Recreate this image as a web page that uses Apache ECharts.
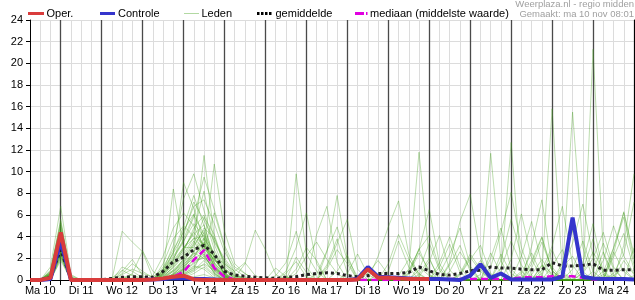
<!DOCTYPE html>
<html><head><meta charset="utf-8">
<script src="https://cdn.jsdelivr.net/npm/echarts@6/dist/echarts.min.js"></script>
<style>html,body{margin:0;padding:0;background:#fff}#c{width:635px;height:300px}</style>
</head><body><div id="c"></div>
<script>
// ---- tick labels / categories ----
const dayLabels = ['Ma 10','Di 11','Wo 12','Do 13','Vr 14','Za 15','Zo 16','Ma 17','Di 18','Wo 19','Do 20','Vr 21','Za 22','Zo 23','Ma 24'];
const hours = ['06:00','12:00','18:00','24:00'];
const yTicks = {min:0, max:24, step:2};

// ---- series values (mm per 6h) ----
const oper = [0,0,0.2,4.4, 0,0,0,0, 0,0,0,0, 0.05,0.15,0.3,0.4, 0.05,0,0,0, 0,0,0,0, 0,0,0,0, 0,0,0,0, 0.05,1.0,0.2,0.2, 0.15,0.1,0.1,0.1, null,null,null,null, null,null,null,null, null,null,null,null, null,null,null,null, null,null,null,null];
const controle = [0,0,0.1,3.6, 0,0,0,0, 0,0,0,0, 0.05,0.1,0.15,0.15, 0.1,0.1,0.05,0, 0,0,0,0, 0,0,0,0, 0,0,0,0, 0.1,1.2,0.3,0.25, 0.2,0.15,0.1,0.1, 0.1,0.05,0,0.4, 1.45,0.2,0.6,0.05, 0.05,0.05,0.05,0.05, 0.3,5.75,0.3,0.15, 0.1,0.1,0.1,0.05];
const gemiddelde = [0,0,0.25,2.8, 0.05,0,0,0.02, 0.15,0.25,0.3,0.3, 0.25,0.8,1.7,2.1, 2.8,3.2,2.4,0.8, 0.45,0.35,0.25,0.2, 0.15,0.25,0.3,0.5, 0.6,0.67,0.6,0.4, 0.3,0.4,0.6,0.6, 0.6,0.7,1.2,0.85, 0.5,0.45,0.6,0.85, 0.9,1.2,1.1,1.1, 1.0,0.95,0.95,1.6, 1.3,1.3,1.35,1.5, 0.9,0.9,0.95,0.95];
const mediaan = [0,0,0,3.2, 0,0,0,0, 0,0,0,0, 0,0,0.3,0.75, 1.85,2.75,1.1,0.3, 0.05,0,0,0, 0,0,0,0, 0,0,0,0, 0,0,0,0, 0,0.15,0.15,0.15, 0,0.1,0.1,0.1, 0.1,0.1,0.1,0.1, 0.25,0.25,0.25,0.35, 0.35,0.35,0.2,0.05, 0.05,0.05,0.05,0.05];

const lid01 = [0,0,0.2,3.1, 0.1,0,0,0, 0,0.3,0.1,0, 0,0.5,1.8,3.0, 4.2,5.1,2.0,0.6, 0.2,0,0,0, 0,0,0.6,2.2, 3.5,1.9,0.6,0, 0,0,0,0, 0,0,1.2,0.4, 0,0,0.5,2.1, 0.8,0,2.4,0.6, 0,0,0,1.3, 2.8,0.2,0.9,3.8, 0.5,0,0,0];
const lid02 = [0,0,0.5,4.0, 0,0,0,0, 0,0,0,0, 0.1,0.9,3.2,7.5, 9.8,6.4,3.3,1.0, 0.4,0.2,0,0, 0,0,0,0, 0,0,0,0, 0,0,0,1.5, 4.2,2.0,0.3,0, 0,0,0,0, 0.2,0,0,0, 0,1.1,3.5,0.9, 0,0,0,0, 0,2.1,4.3,1.0];
const lid03 = [0,0,0,2.4, 0,0,0,0, 0,1.2,0.8,0.2, 0,0,0.4,1.2, 2.6,4.4,1.5,0.3, 0,0,0,0, 0,0.3,0,0, 0,0,0,0, 0,0,0.5,0, 0,0,0,0, 0,1.4,3.2,0.8, 0,0,0,0, 0,0,0,0, 0.3,0,1.6,5.2, 0.7,0,1.8,0.5];
const lid04 = [0,0,0.8,5.6, 0.3,0,0,0, 0,0,0,0, 0.4,2.2,4.8,6.2, 5.0,3.1,2.2,1.5, 0.8,1.6,0.4,0, 0,0,0,0, 0,0,0,0, 0,0,0,0, 0,0.6,2.8,6.5, 1.5,0,0,0.6, 1.8,0.5,0,0, 0,0,0,0, 0,0,0,0, 0,0.4,1.1,0];
const lid05 = [0,0,0.1,2.8, 0,0,0,0, 0,0,0,0, 0,0,0.6,2.0, 3.4,11.5,4.0,1.2, 0,0,0,0, 0,0,0,0, 0,0,0,0, 0,0.6,1.8,0.5, 0,0,0,0, 0,0,0,0, 0,0,0,0, 0,3.1,7.4,1.2, 0,0.4,0,0, 0,0,0,0];
const lid06 = [0,0,0.3,3.6, 0,0,0,0, 0.2,0.9,0.4,0, 0,0.3,1.2,2.4, 3.9,2.8,1.0,0.2, 0,0,0,0, 0.4,1.6,4.5,1.2, 0,0,0,0, 0,0,0,0, 0,0,0,0, 0,0,0.6,2.4, 1.0,0,0,0, 0,0,0,0, 1.2,2.2,0.4,0, 0,0,0,0];
const lid07 = [0,0,0.6,4.5, 0.2,0,0,0, 0,0,0,0, 0,0.2,0.8,1.5, 2.2,3.0,10.7,4.5, 1.5,0.6,0,0, 0,0,0,0, 0,0,0,0, 0,0,0,0, 0,0.5,2.5,0.9, 0,0,0,0, 0,0,0,0, 0.8,0,0,0, 0,0,0,0, 0,3.0,6.2,2.4];
const lid08 = [0,0,0,1.8, 0,0,0,0, 0,0,0,0, 0,0.1,0.2,0.5, 1.2,2.8,6.2,3.0, 0.6,0,0,0, 0,0,0,0, 0,2.6,7.8,2.0, 0.3,0,0,0, 0,0,0,0, 0,0,0,0, 0,0,0,0, 0,0,0,0, 0.5,15.5,3.0,0, 0,0,0,0];
const lid09 = [0,0,0.2,3.0, 0,0,0,0, 0,0.5,1.0,0.6, 0.3,1.0,2.5,4.1, 7.2,5.5,3.6,2.0, 0.7,0,0,0, 0,0,0,0, 0,0,0,0, 0,0,0,0, 0,0,0,0, 0.6,2.4,4.8,1.3, 0,0,0,0, 0,0,0,0, 0,0,0,0, 0,0,0,0];
const lid10 = [0,0,1.2,6.8, 0.5,0,0,0, 0,0,0,0, 0,0,0.3,0.9, 1.6,2.4,0.8,0.1, 0,0,0,0, 0,0,0,0, 0,0,0,0, 0,0,0,0, 0,1.0,11.8,2.0, 0,0,0,0, 0,0,0,0, 0,0,1.4,0.6, 0,0,0,0, 0,0,0,0];
const lid11 = [0,0,0.4,3.3, 0,0,0,0, 0,0,0,0, 0,0.6,1.9,3.8, 6.0,4.2,2.5,0.4, 0,0,0,0, 0,0,1.0,3.0, 1.8,0,0,0, 0,0,0,0, 0,0,0,0, 0,0,0,0, 0.5,11.7,1.8,0, 0,0,0,0, 0,0,0,0, 0,0,0,0];
const lid12 = [0,0,0,2.2, 0,0,0,0, 0,0,0.6,2.7, 0.8,0.2,0.5,1.0, 1.8,2.0,0.6,0, 0,0,0,0, 0,0,0,0, 0,0,0,0, 0,0,0,0, 0,0.7,2.9,0.5, 0,0,0,0, 0,0,0,0, 0,0,0,0, 0,0,0,0, 0,0,3.2,9.8];
const lid13 = [0,0,0.7,4.8, 0,0,0,0, 0,0,0,0, 0,0.4,1.5,2.8, 4.5,8.2,3.5,1.8, 0.5,0,0,0, 0,0,0,0, 0,0,0,0, 0,0,0,0, 0,0,0,0, 0,0,0,0, 0,0,0,0, 0,0,0.4,2.8, 0.6,0,0,0, 0,0,0,0];
const lid14 = [0,0,0.2,2.6, 0,0,0,0, 0,0,0,0, 0,0,0,0.3, 0.8,1.5,0.9,0.2, 0,0,0,0, 0,0,0,0, 0,0,0,0, 0,0,0,0, 0,0,0,0, 0,0,0,0, 0,0,0.6,12.7, 0.4,0,0,0, 0,0,0,0, 0,0,0,0];
const lid15 = [0,0,0.3,3.9, 0,0,0,0, 0,4.5,3.5,2.6, 0.2,0,0.1,0.4, 1.0,2.9,1.9,0.6, 0,0,0,0, 0,0,0,0, 0,0,0,0, 0,0,0,0, 0,0,0,0, 0,0,0,0, 0,0,0,0, 0,0,0.6,15.8, 0.8,0,0,0, 0,0,0,0];
const lid16 = [0,0,0.9,5.2, 0.4,0,0,0, 0,0,0,0, 0,1.5,3.8,5.0, 4.0,3.3,1.8,1.0, 0.3,0,0,0, 0,0,0,0, 0,1.2,3.4,5.6, 1.0,0,0,0, 0,0,0,0, 0,0.8,2.6,1.1, 0,0,0,0, 2.2,5.4,1.4,0, 0,0,0,0, 0,0,0,0.4];
const lid17 = [0,0,0.1,2.9, 0,0,0,0, 0,0,0,0, 0,0,0.2,1.0, 2.5,2.0,1.3,0.4, 0,0,0,0, 0,0,0,0, 0,0,0,0, 0,0,0,0.8, 3.6,1.2,0,0, 0,0,0,0, 0,2.0,4.8,1.0, 0,0,0,0, 1.5,4.6,0.8,0, 0,0,0,0];
const lid18 = [0,0,0.5,3.4, 0,0,0,0, 0,0,0,0, 0,0.8,2.0,3.5, 5.8,9.5,6.5,3.2, 1.2,0.6,0,0, 0,0,2.1,0.7, 0,0,0,0, 0,0,0,0, 0,0,0,0, 0,0,0,0, 0,0,0,0, 0,0,0.9,3.1, 6.8,1.4,0,0, 0,0,0,0];
const lid19 = [0,0,0,2.0, 0,0,0,0, 0,0,0,0, 0,0,0,0.2, 0.6,1.2,0.4,0, 0,0,0,0, 0,0,0,0, 0,0,0,0, 0,0,0,0, 0,0,0.3,1.7, 4.1,0.9,0,0, 0,0,0,0, 0,0,0,0, 0,0,0,21.3, 2.5,0,0,0];
const lid20 = [0,0,0.4,3.7, 0,0,0,0, 0,0,0,0, 0,0.2,0.9,1.8, 2.9,3.4,1.2,0.3, 0,0,0,0, 0,0,0,0, 0,0,0.8,2.3, 0,0,0,0, 0,0,0,0, 0,0,0,0, 0,0,0,0, 0.6,2.5,0.4,0, 0,0,0,0, 1.8,5.0,2.2,0.6];
const lid21 = [0,0,0.3,3.2, 0,0,0,0, 0,0,0.2,0, 0,0,0.5,1.6, 3.2,4.6,2.0,0.5, 0,0,0,0, 0,0,0,0, 0,0,0,0, 0,0,2.2,4.9, 7.3,2.4,0.5,0, 0,0,0,0, 0,0,0,0, 0,0.5,1.9,0.4, 0,0,0,0, 0,0,0,0];
const lid22 = [0,0,0,2.5, 0,0,0,0, 0,0,0,0, 0,0.1,0.3,0.7, 1.3,1.0,0.2,0, 0,0,0,0, 0,0,9.8,2.4, 0.8,0,0,0, 0,0,0,0, 0,0,0,0, 0,0,0.4,1.9, 3.2,0.6,0,0, 0,0,0,0, 0,0,0.6,2.0, 4.4,1.2,0,0];
const lid23 = [0,0,0.6,4.1, 0,0,0,0, 0,0,0,0, 0,1.2,2.8,4.4, 6.8,7.4,5.2,2.6, 1.0,0.3,0,0, 0,0,0,0, 0,0,0,0, 0,0,0,0, 0,0,0,0, 0,0,0,0, 0,0,0,0, 0,0,1.3,0.4, 0,0,0,0, 0,0.6,2.4,7.2];
const lid24 = [0,0,0.2,3.0, 0,0,0,0, 0,0,0,0, 0,0,0.1,0.5, 0.9,1.8,0.7,0, 0,0,0,0, 0,0,0,0, 0,1.0,2.8,1.5, 0,0,0,0, 0,0,0,0, 0,1.6,5.4,7.9, 2.2,0,0,0, 0,0,0,0, 0,0,0,0, 0,0,0,0];
const lid25 = [0,0,0.4,3.5, 0,0,0,0, 0,0,0,0, 0,0.5,1.4,2.6, 4.8,6.0,2.8,0.9, 0.2,1.5,4.6,2.8, 0.5,0,0,0, 0,0,0,0, 0,0,0,0, 0,0,0,0, 0,0,0,0, 0,0,0,1.9, 6.1,2.0,0,0, 0,0,0,0, 0,0,0,0];
const lid26 = [0,0,0,2.1, 0,0,0,0, 0,0,0,0, 0,0,0,0.1, 0.3,0.5,0.2,0, 0,0,0,0, 0,0.8,3.0,6.2, 1.5,0,0,0, 0,0,0,0, 0,0,0,0, 1.2,3.3,0.7,0, 0,0,0,0, 0,0,0,0, 0,1.0,3.6,0.8, 0,0,0,0];
const lid27 = [0,0,0.8,5.0, 0.2,0,0,0, 0,0,0,0, 0,0.7,2.2,3.6, 5.2,4.0,1.6,0.5, 0,0,0,0, 0,0,0,0, 0,0,0,0.6, 2.4,0.5,0,0, 0,0,0,0, 0,0,0,0, 0,0,0,0, 0,0,0,0, 0,0,0,0, 0.3,2.6,0.8,0];
const lid28 = [0,0,0.1,2.7, 0,0,0,0, 0,0,0,0, 0,0,0.3,1.0, 1.9,2.6,1.1,0.3, 0,0,0,0, 0,0,0,0, 4.2,6.8,1.6,0, 0,0,0,0, 0,0,0.9,3.4, 0.9,0,0,0, 0,0,0,0, 0,0,0,0, 0,0,0,0, 0,0,0,0];
const lid29 = [0,0,0.5,4.3, 0,0,0,0, 0,0.8,1.9,0.4, 0,0.1,0.8,1.7, 2.4,3.1,1.4,0.2, 0,0,0,0, 0,0,0,0, 0,0,0,0, 0,0,0,0, 0,0,0,0, 0,0,0,0, 0,0,1.1,3.6, 1.4,0,0,0, 0,0,0,0, 0,0,0,0];
const lid30 = [0,0,0.2,3.3, 0,0,0,0, 0,0,0,0, 0,0.4,1.1,2.2, 3.6,2.2,0.9,0.1, 0,0,0,0, 0,0,0,0, 0,0,0,0, 0,0,0,0, 0,0,0,0, 0,0,0,0, 0,0,0,0, 0,1.8,4.0,0.9, 0,0,0,0, 0,0,0,0];
const lid31 = [0,0,0.3,3.8, 0,0,0,0, 0,0,0,0, 0,0.8,8.4,3.0, 3.0,4.8,3.9,1.6, 0.4,0,0,0, 0,0,0,0, 0,1.4,3.8,0.6, 0,0,0,0, 0,0,0,0, 0,0,0,0, 0,0,0,0, 0,0,0,0, 0,0,0,0, 2.6,0.4,0,0];
const lid32 = [0,0,0,2.3, 0,0,0,0, 0,0,0,0, 0,0,0.2,0.8, 1.5,2.2,1.0,0.4, 0,0,0,0, 1.1,0.3,0,0, 0,0,0,0, 0,0,0,0, 0,0,0,0, 0,0,0,0, 0,2.5,0.6,0, 0,0,0,0, 0,0,0,0, 0,0,0,0];
const lid33 = [0,0,0.6,4.6, 0.1,0,0,0, 0,0,0,0, 0,0.9,2.4,9.0, 6.6,3.6,1.2,0.3, 0,0,0,0, 0,0,0,0, 0,0,0,0, 0,0,0,0, 0,0,0.5,2.0, 0,0,0,0, 0,0,0,0, 0,0,0,0, 0,0,0,0, 0,0,0,3.0];
const lid34 = [0,0,0.2,2.9, 0,0,0,0, 0,0,0,0, 0,0,0.6,1.3, 2.0,3.8,2.4,0.9, 0.2,0,0,0, 0,0.6,1.7,0.3, 0,0,0,0, 0,0,0,0, 0,0,0,0, 0,0,0,0, 0,0,0,0, 0,0,0,0, 0,0,0,0.8, 3.4,1.0,0,0];
const lid35 = [0,0,0.4,3.0, 0,0,0,0, 0,0.6,1.5,0.8, 0.2,0.6,1.8,4.6, 6.1,2.4,0.6,0, 0,0,0,0, 0,0,0,0, 0,0,0,0, 0,0,0,0, 0,0,0,0, 1.6,4.0,1.2,0, 0,0,0,0, 0,0,0,0, 0,0,0,0, 0.8,2.9,5.8,1.4];
const lid36 = [0,0,0.1,2.6, 0,0,0,0, 0,0,0,0, 0,0,0.4,1.1, 2.2,3.5,1.6,0.5, 0,0,0,0, 0,0,0,0, 0.5,2.7,4.9,1.8, 0,0,0,0, 0,0,0,0, 0,0,0,0, 0,0,0,0, 0,0,0,0, 0,0,0.7,2.6, 0.9,0,0,0];
const lid37 = [0,0,0.3,3.4, 0,0,0,0, 0,0,0,0, 0,0.3,0.9,1.9, 3.3,5.8,4.2,1.4, 0.3,0,0,0, 0,0,0,0, 0,0,0,0, 0,0,0,0, 0,0,0,0, 0,0,0,0, 0,0,1.8,5.6, 2.3,0,0,0, 0,0,0,0, 0,0,0,0];
const lid38 = [0,0,0.6,4.0, 0,0,0,0, 0,0,0,0, 0,0.5,1.6,3.0, 3.8,4.1,2.0,0.7, 0,0,0,0, 0,0,0,0, 0,0,0,0, 0,0,0,0, 0,0,0,0, 0,0,0,0, 0,0,0,0, 0,1.5,3.9,0.8, 0,0,0,0, 0.5,0,0,0];
const lid39 = [0,0,0.2,2.4, 0,0,0,0, 0,0,0,0, 0,0,0.2,0.6, 1.1,1.4,0.5,0, 0,0,0,0, 0,0,0,0, 0,0,0,0, 0,0,0,0, 0,0,0,0, 0,0,0,0, 0,1.2,4.4,8.1, 3.0,0.4,0,0, 0,0,0,0, 0,0,0,0];
const lid40 = [0,0,0.5,3.9, 0,0,0,0, 0,0,0,0, 0,0.2,1.3,2.9, 4.4,3.2,1.1,0.2, 0,0,0,0, 0,0,0,0, 0,0,0,0, 0,0,0,0, 0.4,1.9,0.6,0, 0,0,0,0, 0,0,0,0, 0,0,0,0, 0,0,0,0, 0,2.4,6.3,1.9];
const lid41 = [0,0,0.2,3.2, 0,0,0,0, 0,0.2,0.5,0.1, 0,0.1,0.5,1.4, 2.6,3.9,1.2,0.4, 0,0,0,0, 0,0,0,0, 0,0,0,0, 0,0,0,0, 0,0.9,2.8,4.1, 1.1,0,0,0, 0,0,0,0, 0,0,0,0, 0,0,0,0, 0,0,0,0];
const lid42 = [0,0,0.7,5.4, 0.2,0,0,0, 0,0,0,0, 0,0.6,2.6,4.9, 7.8,5.0,2.1,0.6, 0,0,0,0, 0,0,0,0, 0,0,0,0, 0,0,0,0, 0,0,0,0, 0,0,0,0, 0,0,0,0, 0,0,0,0, 0.9,3.4,7.0,2.2, 0,0,0,0];
const leden = [lid01,lid02,lid03,lid04,lid05,lid06,lid07,lid08,lid09,lid10,lid11,lid12,lid13,lid14,lid15,lid16,lid17,lid18,lid19,lid20,lid21,lid22,lid23,lid24,lid25,lid26,lid27,lid28,lid29,lid30,lid31,lid32,lid33,lid34,lid35,lid36,lid37,lid38,lid39,lid40,lid41,lid42];

// ---- build chart ----
const categories = [];
dayLabels.forEach(d => hours.forEach(h => categories.push(d + ' ' + h)));

const FONT = '"Liberation Sans", Arial, sans-serif';
const series = [];
leden.forEach((arr) => series.push({
  name: 'Leden', type: 'line', data: arr, showSymbol: false, silent: true,
  lineStyle: {color: 'rgba(70,160,30,0.36)', width: 1}
}));
series.push({name:'mediaan (middelste waarde)', type:'line', data: mediaan, showSymbol:false, silent:true,
  lineStyle:{color:'#e000e0', width:2.5, type:[7,4]}});
series.push({name:'gemiddelde', type:'line', data: gemiddelde, showSymbol:false, silent:true,
  lineStyle:{color:'#222', width:3, type:[3,3]}});
series.push({name:'Controle', type:'line', data: controle, showSymbol:false, silent:true,
  lineStyle:{color:'#3535cc', width:4}});
series.push({name:'Oper.', type:'line', data: oper, showSymbol:false, silent:true, connectNulls:false,
  lineStyle:{color:'#d93c3c', width:4}});

const chart = echarts.init(document.getElementById('c'), null, {renderer:'canvas'});
chart.setOption({
  animation: false,
  backgroundColor: '#fff',
  grid: {left: 30, right: 1, top: 20, bottom: 20},
  xAxis: [{
    type: 'category', data: categories, boundaryGap: false,
    axisLine: {show: true, lineStyle: {color: '#000', width: 1}},
    axisTick: {show: true, interval: 0, length: 5, lineStyle: {color: '#000'}},
    axisLabel: {interval: (i) => i % 4 === 1, formatter: (v) => v.split(' ').slice(0, 2).join(' '),
      fontFamily: FONT, fontSize: 11, color: '#000', margin: 5},
    splitLine: {show: true, interval: 0, lineStyle: {color: '#dcdcdc', width: 1}}
  }, {
    type: 'category', data: categories, boundaryGap: false, position: 'top',
    axisLine: {show: true, lineStyle: {color: '#000', width: 1}},
    axisTick: {show: false}, axisLabel: {show: false},
    splitLine: {show: true, interval: (i) => i % 4 === 3, lineStyle: {color: '#4a4a4a', width: 1.3}}
  }],
  yAxis: [{
    type: 'value', min: yTicks.min, max: yTicks.max, interval: yTicks.step,
    axisLine: {show: true, lineStyle: {color: '#000'}},
    axisTick: {show: true, length: 4, lineStyle: {color: '#000'}},
    axisLabel: {fontFamily: FONT, fontSize: 11, color: '#000', margin: 7},
    splitLine: {show: true, lineStyle: {color: '#dcdcdc', width: 1}}
  }, {
    type: 'value', min: yTicks.min, max: yTicks.max, interval: yTicks.step, position: 'right',
    axisLine: {show: true, lineStyle: {color: '#000'}},
    axisTick: {show: false}, axisLabel: {show: false}, splitLine: {show: false}
  }],
  graphic: [
    {type:'line', shape:{x1:28, y1:13.5, x2:44, y2:13.5}, style:{stroke:'#d93c3c', lineWidth:3}},
    {type:'text', x:46.5, y:13.5, style:{text:'Oper.', font:'11px ' + FONT, fill:'#000', verticalAlign:'middle'}},
    {type:'line', shape:{x1:100, y1:13.5, x2:115, y2:13.5}, style:{stroke:'#3535cc', lineWidth:3}},
    {type:'text', x:118, y:13.5, style:{text:'Controle', font:'11px ' + FONT, fill:'#000', verticalAlign:'middle'}},
    {type:'line', shape:{x1:184, y1:13.5, x2:199, y2:13.5}, style:{stroke:'#b2d9a2', lineWidth:1}},
    {type:'text', x:201.5, y:13.5, style:{text:'Leden', font:'11px ' + FONT, fill:'#000', verticalAlign:'middle'}},
    {type:'line', shape:{x1:257, y1:13.5, x2:272, y2:13.5}, style:{stroke:'#000', lineWidth:3, lineDash:[2.5,1.5]}},
    {type:'text', x:275.5, y:13.5, style:{text:'gemiddelde', font:'11px ' + FONT, fill:'#000', verticalAlign:'middle'}},
    {type:'line', shape:{x1:355, y1:13.5, x2:364, y2:13.5}, style:{stroke:'#e000e0', lineWidth:3}},
    {type:'line', shape:{x1:366, y1:13.5, x2:367.5, y2:13.5}, style:{stroke:'#e000e0', lineWidth:3}},
    {type:'text', x:370, y:13.5, style:{text:'mediaan (middelste waarde)', font:'11px ' + FONT, fill:'#000', verticalAlign:'middle'}},
    {type:'text', x:634, y:4.5, style:{text:'Weerplaza.nl - regio midden', font:'9.5px ' + FONT, fill:'#a0a0a0', align:'right', verticalAlign:'middle'}},
    {type:'text', x:634, y:14.5, style:{text:'Gemaakt: ma 10 nov 08:01', font:'9.5px ' + FONT, fill:'#a0a0a0', align:'right', verticalAlign:'middle'}}
  ],
  series: series
});
</script>
</body></html>
